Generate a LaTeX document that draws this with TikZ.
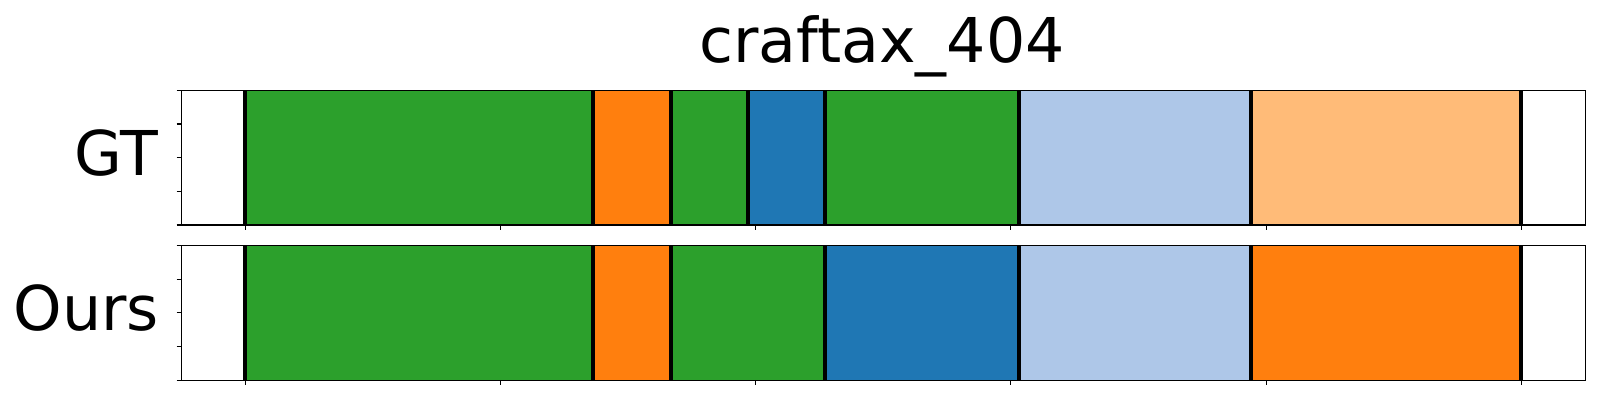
\documentclass[tikz,border=0pt]{standalone}
\usepackage{fontspec}
\setmainfont{DejaVu Sans}
\definecolor{tgreen}{HTML}{2CA02C}
\definecolor{torange}{HTML}{FF7F0E}
\definecolor{tblue}{HTML}{1F77B4}
\definecolor{tlblue}{HTML}{AEC7E8}
\definecolor{tlorange}{HTML}{FFBB78}
\begin{document}
\begin{tikzpicture}[x=1bp,y=-1bp,
  seg/.style={line width=0.6bp},
  bound/.style={line width=4bp,black},
  spine/.style={line width=1.4bp,black},
  tick/.style={line width=1.1bp,black},
  lbl/.style={font=\fontsize{62}{62}\selectfont,inner sep=0pt}]
\useasboundingbox (0,0) rectangle (1600,400);
% GT bars
\foreach \a/\b/\c in {245/593/tgreen,593/671/torange,671/748/tgreen,748/825/tblue,825/1019/tgreen,1019/1251/tlblue,1251/1521/tlorange}
  \filldraw[fill=\c,draw=\c!85!black,seg] (\a,90.3) rectangle (\b,225);
\foreach \x in {245,593,671,748,825,1019,1251,1521}
  \draw[bound] (\x,90.3) -- (\x,225);
% Ours bars
\foreach \a/\b/\c in {245/593/tgreen,593/671/torange,671/825/tgreen,825/1019/tblue,1019/1251/tlblue,1251/1521/torange}
  \filldraw[fill=\c,draw=\c!85!black,seg] (\a,245.3) rectangle (\b,380.3);
\foreach \x in {245,593,671,825,1019,1251,1521}
  \draw[bound] (\x,245.3) -- (\x,380.3);
% axes frames
\draw[spine] (181.7,90.3) rectangle (1585.7,225);
\draw[spine] (181.7,245.3) rectangle (1585.7,380.3);
% ticks
\foreach \x in {245.5,500.6,755.8,1010.9,1266.1,1521.3} {
  \draw[tick] (\x,225) -- (\x,230);
  \draw[tick] (\x,380.3) -- (\x,385.3);
}
\foreach \i in {0,...,4} {
  \draw[tick] (176.7,90.3+33.675*\i) -- (181.7,90.3+33.675*\i);
  \draw[tick] (176.7,245.3+33.75*\i) -- (181.7,245.3+33.75*\i);
}
% labels
\node[lbl,anchor=base east] (gt) at (158,175) {GT};
\node[lbl,anchor=base east] (ours) at (159,330) {Ours};
\node[lbl,anchor=base] (title) at (882,62) {craftax\_404};
\end{tikzpicture}
\end{document}
